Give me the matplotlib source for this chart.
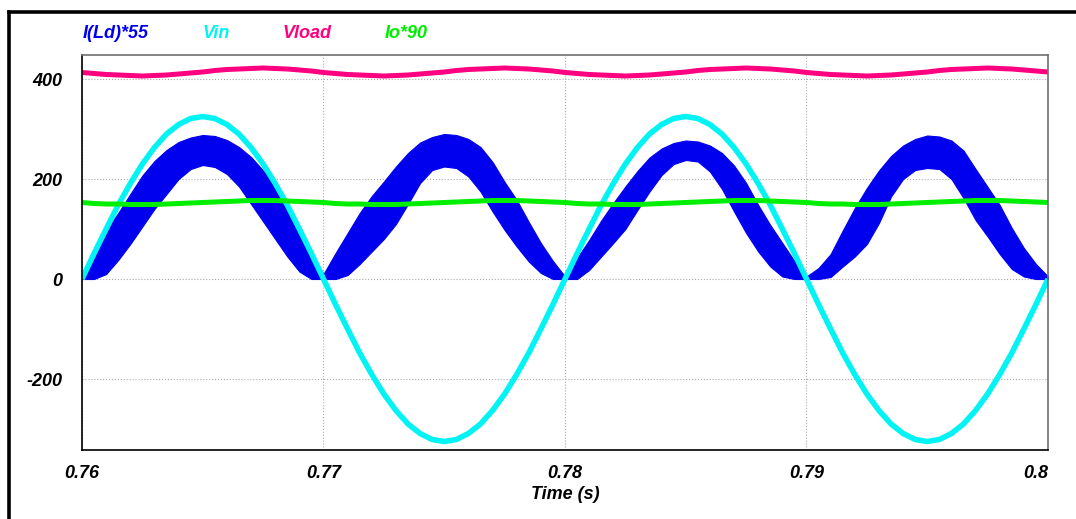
import numpy as np
import matplotlib
matplotlib.use('Agg')
import matplotlib.pyplot as plt
from matplotlib.lines import Line2D

plt.rcParams['font.family'] = ['Liberation Sans', 'DejaVu Sans']
plt.rcParams['axes.unicode_minus'] = False

# time grid of the scope trace (0.5 ms steps)
t_start, t_stop = 0.76, 0.80
n_pts = 81

# Vin
vin = [0, 51, 100, 148, 191, 230, 263, 290, 309, 321, 325, 321, 309, 290, 263, 230, 191, 148, 100, 51,
       0, -51, -100, -148, -191, -230, -263, -290, -309, -321, -325, -321, -309, -290, -263, -230, -191, -148, -100, -51,
       0, 51, 100, 148, 191, 230, 263, 290, 309, 321, 325, 321, 309, 290, 263, 230, 191, 148, 100, 51,
       0, -51, -100, -148, -191, -230, -263, -290, -309, -321, -325, -321, -309, -290, -263, -230, -191, -148, -100, -51,
       0]

# Vload
vload = [413, 411, 409, 408, 407, 406, 407, 408, 410, 412, 414, 417, 419, 420, 421, 422, 421, 420, 418, 416,
         413, 411, 409, 408, 407, 406, 407, 408, 410, 412, 414, 417, 419, 420, 421, 422, 421, 420, 418, 416,
         413, 411, 409, 408, 407, 406, 407, 408, 410, 412, 414, 417, 419, 420, 421, 422, 421, 420, 418, 416,
         413, 411, 409, 408, 407, 406, 407, 408, 410, 412, 414, 417, 419, 420, 421, 422, 421, 420, 418, 416,
         414]

# Io*90
io90 = [153, 151, 150, 150, 149, 149, 149, 150, 151, 152, 153, 154, 155, 156, 157, 157, 157, 156, 155, 154,
        153, 151, 150, 150, 149, 149, 149, 150, 151, 152, 153, 154, 155, 156, 157, 157, 157, 156, 155, 154,
        153, 151, 150, 150, 149, 149, 149, 150, 151, 152, 153, 154, 155, 156, 157, 157, 157, 156, 155, 154,
        153, 151, 150, 150, 149, 149, 149, 150, 151, 152, 153, 154, 155, 156, 157, 157, 157, 156, 155, 154,
        153]

# I(Ld)*55 - switching ripple band (lower / upper edge)
ild_low = [0, 0, 10, 38, 70, 105, 140, 170, 200, 220, 228, 224, 210, 185, 150, 115, 80, 45, 15, 0,
           0, 0, 8, 30, 55, 80, 110, 150, 192, 218, 225, 222, 205, 175, 135, 98, 65, 35, 12, 0,
           0, 0, 18, 45, 72, 100, 138, 175, 208, 230, 238, 235, 215, 180, 135, 92, 55, 25, 5, 0,
           0, 0, 4, 25, 45, 70, 112, 165, 200, 218, 222, 220, 200, 162, 118, 85, 50, 20, 5, 0,
           0]
ild_high = [10, 60, 98, 132, 170, 207, 236, 258, 274, 283, 288, 286, 278, 264, 244, 217, 186, 148, 102, 52,
            10, 52, 92, 132, 166, 195, 225, 252, 273, 284, 290, 288, 280, 264, 234, 194, 158, 114, 72, 36,
            5, 42, 78, 117, 152, 185, 216, 243, 261, 272, 277, 275, 267, 252, 227, 192, 148, 108, 72, 36,
            5, 22, 50, 97, 142, 182, 217, 246, 267, 280, 287, 285, 277, 257, 220, 184, 148, 102, 62, 30,
            5]

names = ['I(Ld)*55', 'Vin', 'Vload', 'Io*90']
colors = ['#0000ee', '#00f4f4', '#ff0080', '#00ee00']

t = np.linspace(t_start, t_stop, n_pts)

W, H = 1076, 519
fig = plt.figure(figsize=(W / 100, H / 100), dpi=100)
ax = fig.add_axes([82 / W, 1 - 450 / H, 966 / W, 395 / H])

ax.fill_between(t, ild_low, ild_high, color=colors[0], linewidth=0.8)
ax.plot(t, vin, color=colors[1], lw=4.0, solid_capstyle='butt')
ax.plot(t, vload, color=colors[2], lw=3.6, solid_capstyle='butt')
ax.plot(t, io90, color=colors[3], lw=3.6, solid_capstyle='butt')

ax.set_xlim(t_start, t_stop)
ax.set_ylim(-342, 448)
ax.set_yticks([-200, 0, 200, 400])
ax.set_xticks([0.76, 0.77, 0.78, 0.79, 0.80])
ax.set_xticklabels(['0.76', '0.77', '0.78', '0.79', '0.8'])
ax.grid(True, linestyle=':', color='#aaaaaa', lw=0.8)
ax.set_axisbelow(True)

font = dict(fontsize=13, fontweight='bold', fontstyle='italic')
ax.tick_params(length=0, pad=14, labelsize=13)
ax.tick_params(axis='x', pad=11)
for lab in ax.get_xticklabels() + ax.get_yticklabels():
    lab.set_fontweight('bold')
    lab.set_fontstyle('italic')
ax.get_xticklabels()[-1].set_horizontalalignment('right')
ax.set_xlabel('Time (s)', labelpad=3, **font)

for side in ['left', 'bottom']:
    ax.spines[side].set_color('black')
    ax.spines[side].set_linewidth(1.2)
for side in ['top', 'right']:
    ax.spines[side].set_color('#707070')
    ax.spines[side].set_linewidth(1.2)

# legend names above the plot
for x, name, c in zip([83, 203, 283, 385], names, colors):
    fig.text(x / W, 1 - 34 / H, name, color=c, ha='left', va='center', **font)

# outer frame
fig.add_artist(Line2D([9 / W, 9 / W], [0, 1 - 12 / H], transform=fig.transFigure,
                      color='black', lw=2.6, solid_capstyle='projecting'))
fig.add_artist(Line2D([9 / W, 1], [1 - 12 / H, 1 - 12 / H], transform=fig.transFigure,
                      color='black', lw=2.6, solid_capstyle='projecting'))

fig.savefig('out.png', dpi=100)
